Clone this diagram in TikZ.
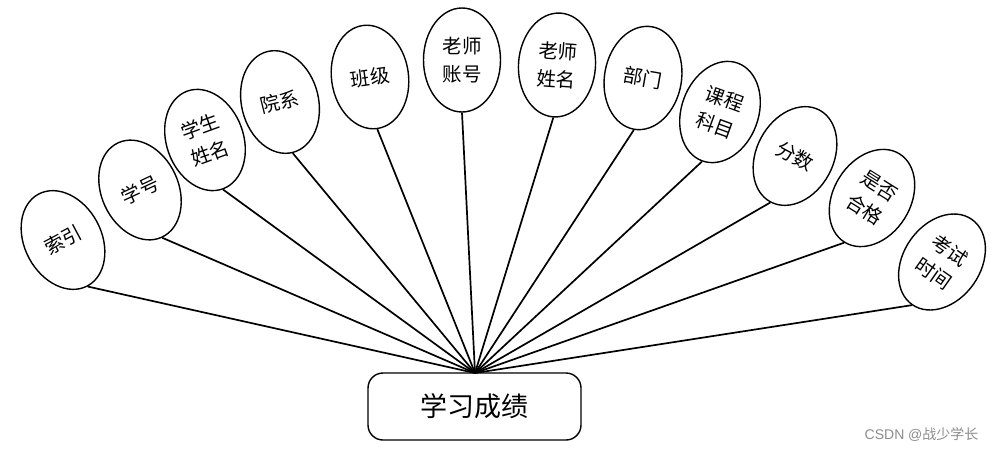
\documentclass[tikz,border=0pt]{standalone}
\usepackage{fontspec}
\newfontfamily\cjk{Noto Sans CJK SC}
\usetikzlibrary{shapes.geometric}
\begin{document}
\begin{tikzpicture}[x=1pt,y=-1pt,
  attr/.style={ellipse,draw,line width=1.4pt,minimum width=77pt,minimum height=104pt,inner sep=0pt,align=center,font=\cjk\fontsize{19.5}{28}\selectfont},
  conn/.style={line width=1.7pt},
  entity/.style={draw,line width=1.4pt,rounded corners=15pt,minimum width=213pt,minimum height=67pt,font=\cjk\fontsize{27}{30}\selectfont}]
\useasboundingbox (0,0) rectangle (997,453);
\node[entity] (main) at (474.5,406.5) {学习成绩};
\coordinate (hub) at (475,373);
\node[attr,rotate=28] (a1) at (63,240) {索引};
\node[attr,rotate=25] (a2) at (140,190) {学号};
\node[attr,rotate=20] (a3) at (205,140) {学生\\姓名};
\node[attr,rotate=14] (a4) at (280,102) {院系};
\node[attr,rotate=8] (a5) at (370,77) {班级};
\node[attr,rotate=0] (a6) at (462,60) {老师\\账号};
\node[attr,rotate=-4] (a7) at (557,65) {老师\\姓名};
\node[attr,rotate=-10] (a8) at (643,78) {部门};
\node[attr,rotate=-20] (a9) at (720,112) {课程\\科目};
\node[attr,rotate=-28] (a10) at (795,156) {分数};
\node[attr,rotate=-32] (a11) at (872,198) {是否\\合格};
\node[attr,rotate=-35] (a12) at (942,262) {考试\\时间};
\foreach \i in {1,...,12} \draw[conn] (a\i.south) -- (hub);
\node[font=\fontspec{Liberation Sans}\fontsize{14}{16}\selectfont,text=black!45,anchor=east] (wm) at (982,435) {CSDN @\cjk 战少学长};
\end{tikzpicture}
\end{document}
